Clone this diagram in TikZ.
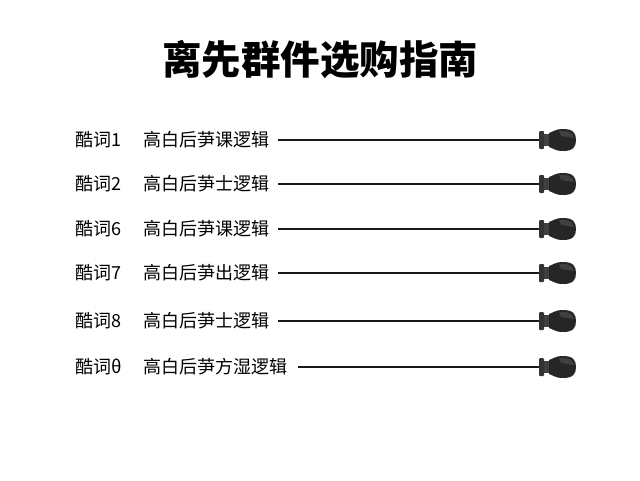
\documentclass[tikz,border=0pt]{standalone}
\usepackage{fontspec}
\newfontfamily\cjk{Noto Sans CJK SC}
\begin{document}
\begin{tikzpicture}[x=1pt,y=-1pt,
  lbl/.style={anchor=west,inner sep=0,font=\cjk\fontsize{18}{20}\selectfont},
  wire/.style={line width=1.3pt,black!90},
  plug/.pic={
    \fill[black!80,rounded corners=1pt] (-14,-9) rectangle (-9,9);
    \fill[black!75] (-9,-6) rectangle (-4,6);
    \fill[black!85] (-4,-7) .. controls (0,-8) and (2,-11) .. (10,-11)
      .. controls (20,-11) and (23,-7) .. (23,0)
      .. controls (23,7) and (20,11) .. (10,11)
      .. controls (2,11) and (0,8) .. (-4,7) -- cycle;
    \fill[white,opacity=.12] (6,-9) .. controls (14,-10) and (20,-8) .. (21,-2) -- (8,-4) -- cycle;
    \coordinate (-in) at (-14,0);
  }]
\useasboundingbox (0,0) rectangle (640,480);
\fill[white] (0,0) rectangle (640,480);
\node[font=\cjk\bfseries\fontsize{39.5}{44}\selectfont,inner sep=0] (title) at (320,60) {离先群件选购指南};
\foreach \i/\y/\a/\b/\xs in {1/140/1/高白后芛课逻辑/278,2/184/2/高白后芛士逻辑/278,3/229/6/高白后芛课逻辑/278,4/273/7/高白后芛出逻辑/278,5/321/8/高白后芛士逻辑/278,6/367/θ/高白后芛方湿逻辑/298}{
  \node[lbl] (k\i) at (75,\y) {酷词\a};
  \node[lbl] (t\i) at (143,\y) {\b};
  \pic (p\i) at (553,\y) {plug};
  \coordinate (s\i) at (\xs,\y);
  \draw[wire] (s\i) -- (p\i-in);
}
\end{tikzpicture}
\end{document}
